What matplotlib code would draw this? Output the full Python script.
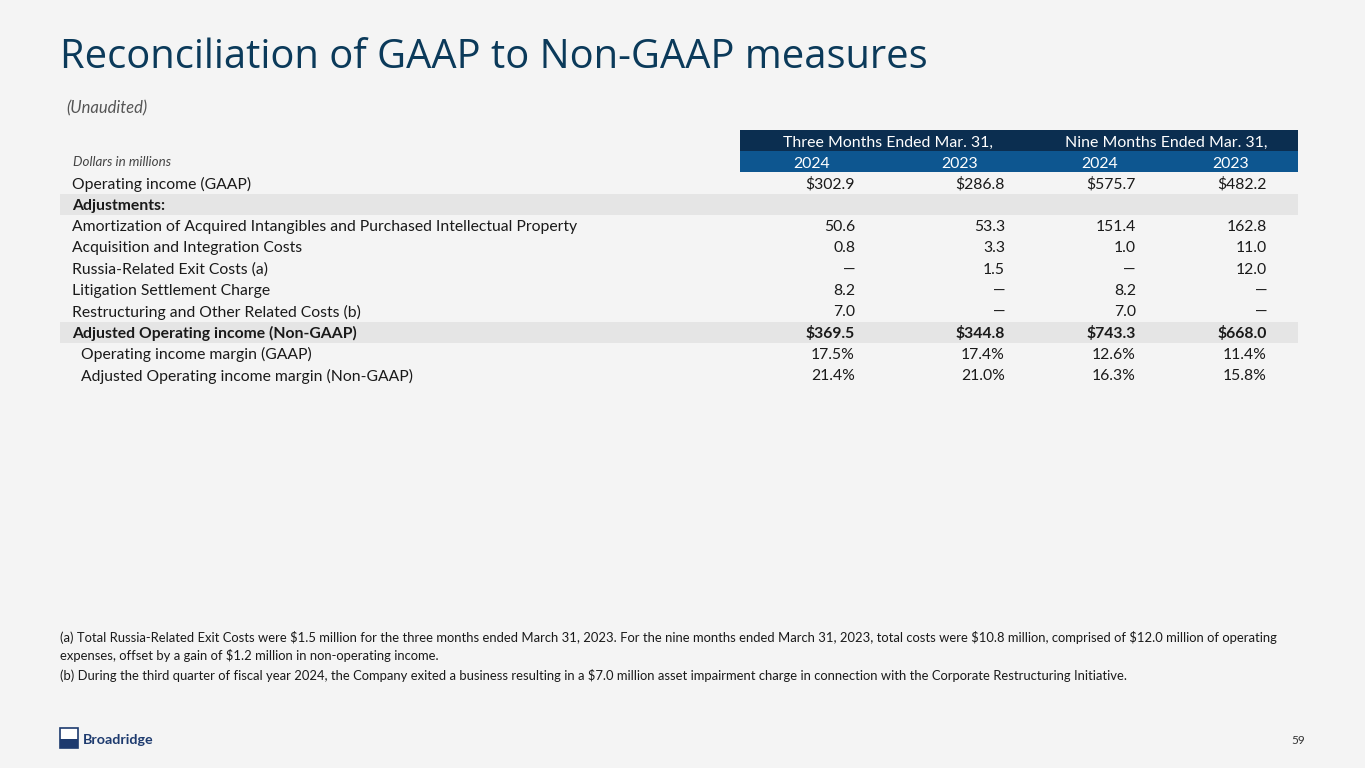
import matplotlib
matplotlib.use('Agg')
import matplotlib.pyplot as plt
from matplotlib.patches import Rectangle

plt.rcParams['font.family'] = ['Lato', 'DejaVu Sans']

BG = '#f4f4f4'
NAVY = '#0b2e50'
BLUE = '#0d5690'
BAND = '#e5e5e5'
TXT = '#1a1a1a'

title = 'Reconciliation of GAAP to Non-GAAP measures'
periods = ['Three Months Ended Mar. 31,', 'Nine Months Ended Mar. 31,']
years = ['2024', '2023', '2024', '2023']

rows = ['Operating income (GAAP)',
        'Adjustments:',
        'Amortization of Acquired Intangibles and Purchased Intellectual Property',
        'Acquisition and Integration Costs',
        'Russia-Related Exit Costs (a)',
        'Litigation Settlement Charge',
        'Restructuring and Other Related Costs (b)',
        'Adjusted Operating income (Non-GAAP)',
        'Operating income margin (GAAP)',
        'Adjusted Operating income margin (Non-GAAP)']
q3_2024 = ['$302.9', '', '50.6', '0.8', '—', '8.2', '7.0', '$369.5', '17.5%', '21.4%']
q3_2023 = ['$286.8', '', '53.3', '3.3', '1.5', '—', '—', '$344.8', '17.4%', '21.0%']
ytd_2024 = ['$575.7', '', '151.4', '1.0', '—', '8.2', '7.0', '$743.3', '12.6%', '16.3%']
ytd_2023 = ['$482.2', '', '162.8', '11.0', '12.0', '—', '—', '$668.0', '11.4%', '15.8%']
bold_rows = [1, 7]
band_rows = [1, 7]
indent_rows = [8, 9]

notes = ['(a) Total Russia-Related Exit Costs were $1.5 million for the three months ended March 31, 2023. For the nine months ended March 31, 2023, total costs were $10.8 million, comprised of $12.0 million of operating',
         'expenses, offset by a gain of $1.2 million in non-operating income.',
         '(b) During the third quarter of fiscal year 2024, the Company exited a business resulting in a $7.0 million asset impairment charge in connection with the Corporate Restructuring Initiative.']

fig = plt.figure(figsize=(13.65, 7.68), dpi=100, facecolor=BG)
ax = fig.add_axes([0, 0, 1, 1])
ax.set_xlim(0, 1365)
ax.set_ylim(768, 0)
ax.axis('off')

ax.text(60, 58, title, fontsize=28.7, color='#0b3a5a', family='Open Sans', va='center', ha='left')
ax.text(66, 108, '(Unaudited)', fontsize=12, color='#555555', style='italic', va='center')

# header
ax.add_patch(Rectangle((740, 130), 558, 21, color=NAVY, lw=0))
ax.add_patch(Rectangle((740, 151), 558, 21, color=BLUE, lw=0))
for cx, p in zip([888, 1166], periods):
    ax.text(cx, 141, p, fontsize=11.4, color='white', ha='center', va='center_baseline')
for rx, y in zip([830, 978, 1118, 1249], years):
    ax.text(rx, 162, y, fontsize=11.4, color='white', ha='right', va='center_baseline')
ax.text(73, 161, 'Dollars in millions', fontsize=9.6, style='italic', color='#444444', va='center_baseline')

cols = [q3_2024, q3_2023, ytd_2024, ytd_2023]
col_x = [855, 1005, 1136, 1267]
y0 = 183
dy = 21.3
for i, lab in enumerate(rows):
    y = y0 + i * dy
    if i in band_rows:
        ax.add_patch(Rectangle((60, y - 10.5), 1238, 21, color=BAND, lw=0))
    w = 'bold' if i in bold_rows else 'normal'
    x = 81 if i in indent_rows else 72
    ax.text(x, y, lab, fontsize=11.35, color=TXT, fontweight=w, va='center_baseline')
    for cx, c in zip(col_x, cols):
        ax.text(cx, y, c[i], fontsize=11.35, color=TXT, fontweight=w, va='center_baseline', ha='right')

for y, n in zip([637, 655, 674], notes):
    ax.text(60, y, n, fontsize=9.4, color=TXT, va='center_baseline')

# logo
ax.add_patch(Rectangle((60, 728), 18, 20, facecolor='white', edgecolor='#1d3a6e', lw=1.2))
ax.add_patch(Rectangle((60, 739), 18, 9, color='#1d3a6e', lw=0))
ax.text(83, 739, 'Broadridge', fontsize=10.3, fontweight='bold', color='#1d3a6e', va='center_baseline')
ax.text(1305, 740, '59', fontsize=8.5, color='#333333', ha='right', va='center_baseline')

fig.savefig('out.png', dpi=100, facecolor=BG)
